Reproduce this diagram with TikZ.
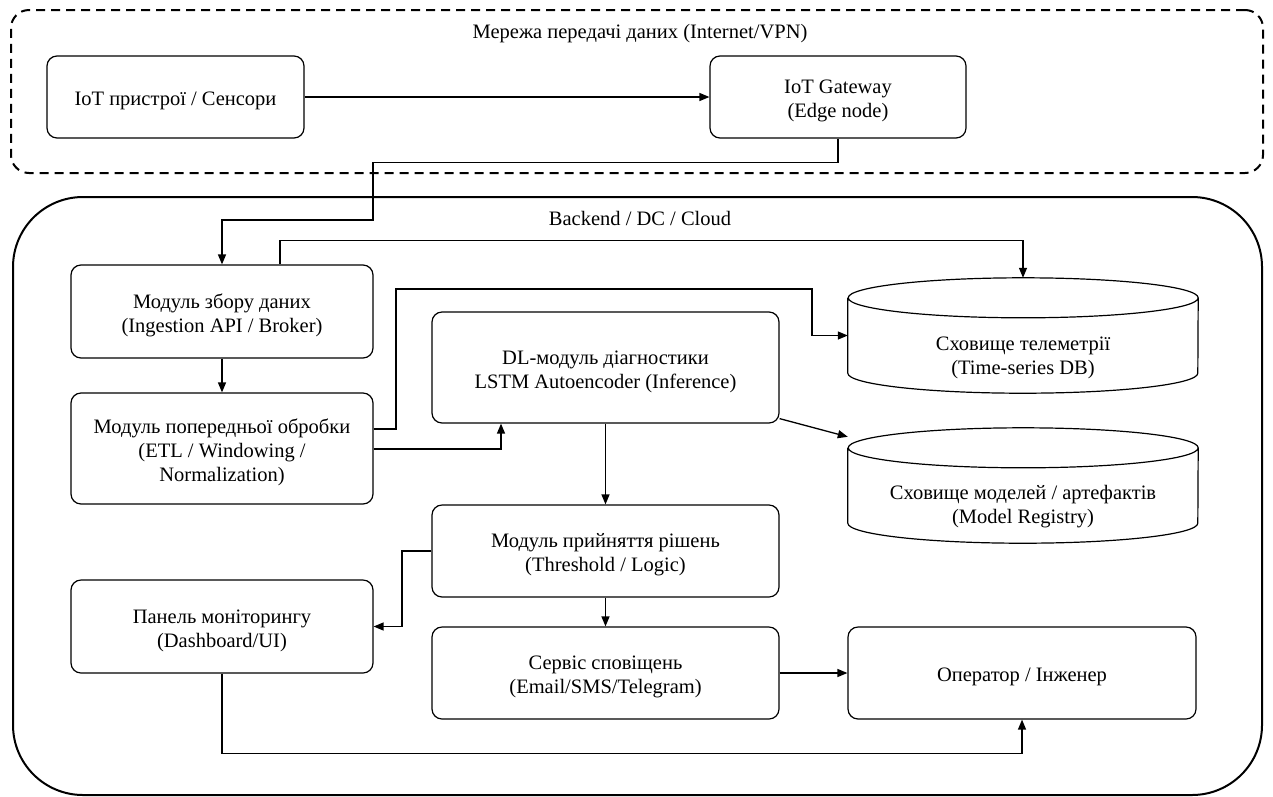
\documentclass[tikz,border=0pt]{standalone}
\usepackage{fontspec}
\setmainfont{Liberation Serif}
\usetikzlibrary{arrows.meta}
\begin{document}
\begin{tikzpicture}[x=1pt,y=-1pt,
  every node/.style={font=\fontsize{20.5}{24}\selectfont, align=center, inner sep=0pt},
  txt/.style={yshift=-4pt},
  box/.style={draw, rounded corners=10pt, line width=1.2pt},
  container/.style={draw, line width=2pt},
  conn/.style={line width=1.3pt, -{Triangle[length=10pt,width=8pt]}},
  cyl/.style={line width=1.2pt}]
\useasboundingbox (0,0) rectangle (1273,796);

% network zone and backend zone
\node[container, dash pattern=on 9pt off 6pt, rounded corners=18pt,
      minimum width=1252pt, minimum height=163pt] (net) at (637,91.5) {};
\node[txt] (nettitle) at (640,30) {Мережа передачі даних (Internet/VPN)};
\node[container, rounded corners=70pt,
      minimum width=1249pt, minimum height=598pt] (backend) at (637.5,496) {};
\node[txt] (betitle) at (640,214) {Backend / DC / Cloud};

% edge devices
\node[box, minimum width=257pt, minimum height=82pt] (iot) at (175.5,97) {};
\node[txt] (iott) at (iot) {IoT пристрої / Сенсори};
\node[box, minimum width=256pt, minimum height=82pt] (gw) at (838,97) {};
\node[txt] (gwt) at (gw) {IoT Gateway\\(Edge node)};

% backend modules
\node[box, minimum width=302pt, minimum height=93pt] (ing) at (222,311.5) {};
\node[txt] (ingt) at (ing) {Модуль збору даних\\(Ingestion API / Broker)};
\node[box, minimum width=302pt, minimum height=111pt] (pre) at (222,448.5) {};
\node[txt] (pret) at (pre) {Модуль попередньої обробки\\(ETL / Windowing /\\Normalization)};
\node[box, minimum width=347pt, minimum height=111pt] (dl) at (605.5,367.5) {};
\node[txt] (dlt) at (dl) {DL-модуль діагностики\\LSTM Autoencoder (Inference)};
\node[box, minimum width=347pt, minimum height=92pt] (dec) at (605.5,551) {};
\node[txt] (dect) at (dec) {Модуль прийняття рішень\\(Threshold / Logic)};
\node[box, minimum width=302pt, minimum height=93pt] (dash) at (222,626.5) {};
\node[txt] (dasht) at (dash) {Панель моніторингу\\(Dashboard/UI)};
\node[box, minimum width=347pt, minimum height=92pt] (ntf) at (605.5,673) {};
\node[txt] (ntft) at (ntf) {Сервіс сповіщень\\(Email/SMS/Telegram)};
\node[box, minimum width=348pt, minimum height=92pt] (op) at (1022,673) {};
\node[txt] (opt) at (op) {Оператор / Інженер};

% storage cylinders
\node[minimum width=350pt, minimum height=115pt] (tsdb) at (1023,335.5) {};
\draw[cyl] ([yshift=-20pt]tsdb.north west) -- ([yshift=20pt]tsdb.south west)
  arc[start angle=180, end angle=360, x radius=175pt, y radius=20pt]
  -- ([yshift=-20pt]tsdb.north east)
  arc[start angle=0, end angle=360, x radius=175pt, y radius=20pt];
\node[txt] (tsdbt) at (1023,354) {Сховище телеметрії\\(Time-series DB)};

\node[minimum width=350pt, minimum height=115pt] (mr) at (1023,485.5) {};
\draw[cyl] ([yshift=-20pt]mr.north west) -- ([yshift=20pt]mr.south west)
  arc[start angle=180, end angle=360, x radius=175pt, y radius=20pt]
  -- ([yshift=-20pt]mr.north east)
  arc[start angle=0, end angle=360, x radius=175pt, y radius=20pt];
\node[txt] (mrt) at (1023,503) {Сховище моделей / артефактів\\(Model Registry)};

% connectors
\draw[conn] (iot.east) -- (gw.west);
\draw[conn] (gw.south) -- ++(0,24) -| (373,220) -| (ing.north);
\draw[conn] ([xshift=58pt]ing.north) -- ++(0,-24) -| (tsdb.north);
\draw[conn] (ing.south) -- (pre.north);
\draw[conn] ([yshift=19.5pt]pre.east) -| (396,289) -| (812,310) |- (tsdb.west);
\draw[conn] ([yshift=-0.5pt]pre.east) -| ([xshift=-104.5pt]dl.south);
\draw[conn] (dl.south) -- (dec.north);
\draw[conn] ([yshift=5pt]dl.south east) -- ([yshift=-9pt]mr.north west);
\draw[conn] (dec.west) -| (402,600) |- (dash.east);
\draw[conn] (dec.south) -- (ntf.north);
\draw[conn] (ntf.east) -- (op.west);
\draw[conn] (dash.south) -- ++(0,80) -| (op.south);
\end{tikzpicture}
\end{document}
